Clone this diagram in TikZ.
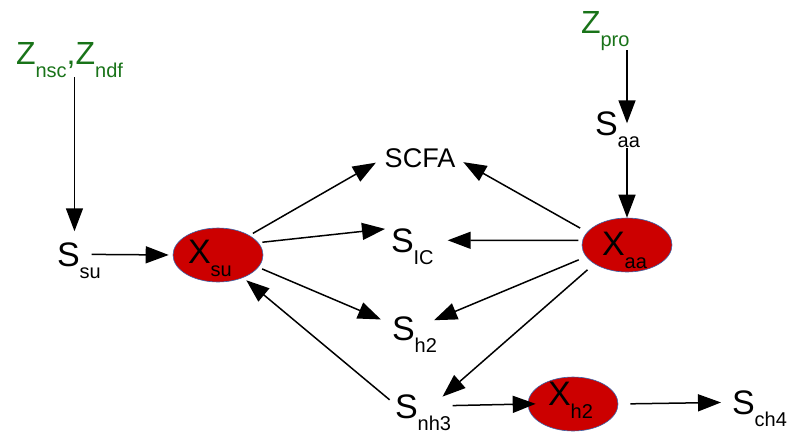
\documentclass[tikz,border=0pt]{standalone}
\usepackage{fontspec}
\setmainfont{Liberation Sans}
\usetikzlibrary{arrows.meta,shapes.geometric}
\definecolor{zgreen}{RGB}{25,115,25}
\definecolor{bugred}{RGB}{204,0,0}
\definecolor{bugedge}{RGB}{60,100,170}
\newcommand\subf[1]{{\fontsize{20}{22}\selectfont #1}}
\newcommand\slbl[2]{#1\rlap{\raisebox{-12pt}[0pt][0pt]{\subf{#2}}}}
\newcommand\xlbl[4]{\makebox[0pt][l]{\hspace*{#3}\raisebox{#4}[0pt][0pt]{#1\raisebox{-13pt}{\subf{#2}}}}}
\tikzset{
  arr/.style={line width=1.5pt, -{Triangle[length=23pt,width=17pt]}},
  bug/.style={ellipse, fill=bugred, draw=bugedge, line width=0.6pt,
    minimum width=90pt, minimum height=54pt, inner sep=0pt,
    font=\fontsize{34}{40}\selectfont},
  txt/.style={inner sep=0pt, outer sep=0pt, anchor=base west,
    font=\fontsize{34}{40}\selectfont},
  ztxt/.style={inner sep=0pt, outer sep=0pt, text=zgreen,
    font=\fontsize{32}{38}\selectfont}
}
\begin{document}
\begin{tikzpicture}[x=1pt,y=-1pt]
\path[use as bounding box] (0,0) rectangle (791,434);
% bacteria
\node[bug] (xsu) at (218,255) {\xlbl{X}{su}{-30pt}{-8pt}};
\node[bug] (xaa) at (627,245) {\xlbl{X}{aa}{-25pt}{-10pt}};
\node[bug] (xh2) at (573,404) {\xlbl{X}{h2}{-25pt}{-1pt}};
% substrates
\node[txt] (ssu) at (57,266) {\slbl{S}{su}};
\node[txt] (saa) at (595,135) {\slbl{S}{aa}};
\node[txt] (sic) at (391,252) {\slbl{S}{IC}};
\node[txt] (sh2) at (392,340) {\slbl{S}{h2}};
\node[txt] (snh3) at (395,418) {\slbl{S}{nh3}};
\node[txt] (sch4) at (732,414) {\slbl{S}{ch4}};
\node[inner sep=0pt, anchor=base, font=\fontsize{27}{32}\selectfont] (scfa) at (420,167) {SCFA};
\node[ztxt, anchor=base] (zn) at (69.5,64) {Z\raisebox{-13pt}{\subf{nsc}},Z\raisebox{-13pt}{\subf{ndf}}};
\node[ztxt, anchor=base west] (zpro) at (581,33) {Z\raisebox{-13pt}{\subf{pro}}};
% connectors
\draw[arr, shorten >=11pt] (zn.south -| ssu.63) -- (ssu.63);
\draw[arr, shorten <=12pt, shorten >=4pt] (ssu.east) -- (xsu.west);
\draw[arr, shorten <=4pt, shorten >=10pt] (xsu.32) -- (scfa.west);
\draw[arr, shorten <=4pt, shorten >=6pt] (xsu.17) -- (sic.north west);
\draw[arr, shorten <=4pt, shorten >=12pt] (xsu.-17) -- (sh2.160);
\draw[arr, shorten <=7pt, shorten >=4pt] (snh3.170) -- (xsu.-42);
\draw[arr, shorten <=8pt, shorten >=9pt] (xaa.162) -- (scfa.east);
\draw[arr, shorten <=4pt, shorten >=34pt] (xaa.174) -- (sic.east);
\draw[arr, shorten <=8pt, shorten >=21pt] (xaa.196) -- (sh2.east);
\draw[arr, shorten <=9pt, shorten >=33pt] (xaa.210) -- (snh3.south east);
\draw[arr, shorten <=35pt, shorten >=-8pt] (snh3.east) -- (xh2.west);
\draw[arr, shorten <=12pt, shorten >=11pt] (xh2.east) -- (sch4.west);
\draw[arr] (zpro.south -| xaa.north) -- (saa.east -| xaa.north);
\draw[arr, shorten <=13pt] (saa.south -| xaa.north) -- (xaa.north);
\end{tikzpicture}
\end{document}
